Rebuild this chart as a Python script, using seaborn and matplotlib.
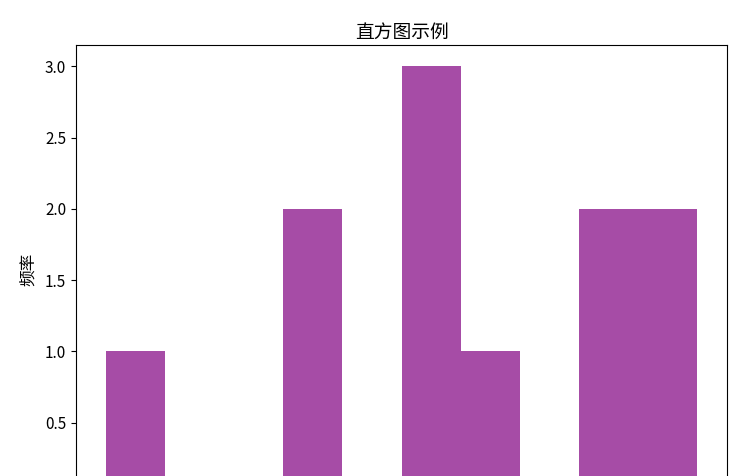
import matplotlib
matplotlib.use("Agg")
import matplotlib.pyplot as plt
import seaborn as sns

# values (10 equal bins between min and max)
values = [1.0, 4.2, 4.6, 6.1, 6.4, 6.8, 7.5, 9.2, 9.7, 10.3, 11.0]
n_bins = 10
title = "直方图示例"
y_label = "频率"
# 0.0 lies below the cropped bottom edge of the reference
y_ticks = [0.5, 1.0, 1.5, 2.0, 2.5, 3.0]

plt.rcParams['font.family'] = ['Noto Sans CJK SC', 'DejaVu Sans']
plt.rcParams['axes.unicode_minus'] = False

fig = plt.figure(figsize=(7.46, 4.76), dpi=100)
# the reference is cropped: the x axis sits just below the bottom edge
ax = fig.add_axes([76 / 746, -18 / 476, 651 / 746, 449 / 476])

sns.histplot(x=values, bins=n_bins, color="purple", alpha=0.7,
             linewidth=0, edgecolor="none", ax=ax)

ax.set_title(title, fontsize=13.5, pad=5)
ax.set_ylabel(y_label, fontsize=12, labelpad=6)
ax.set_xlabel("")
ax.set_yticks(y_ticks)
ax.tick_params(axis="y", labelsize=11)
# x tick labels fall outside the cropped picture
ax.tick_params(axis="x", labelbottom=False)

fig.savefig("out.png", dpi=100)
